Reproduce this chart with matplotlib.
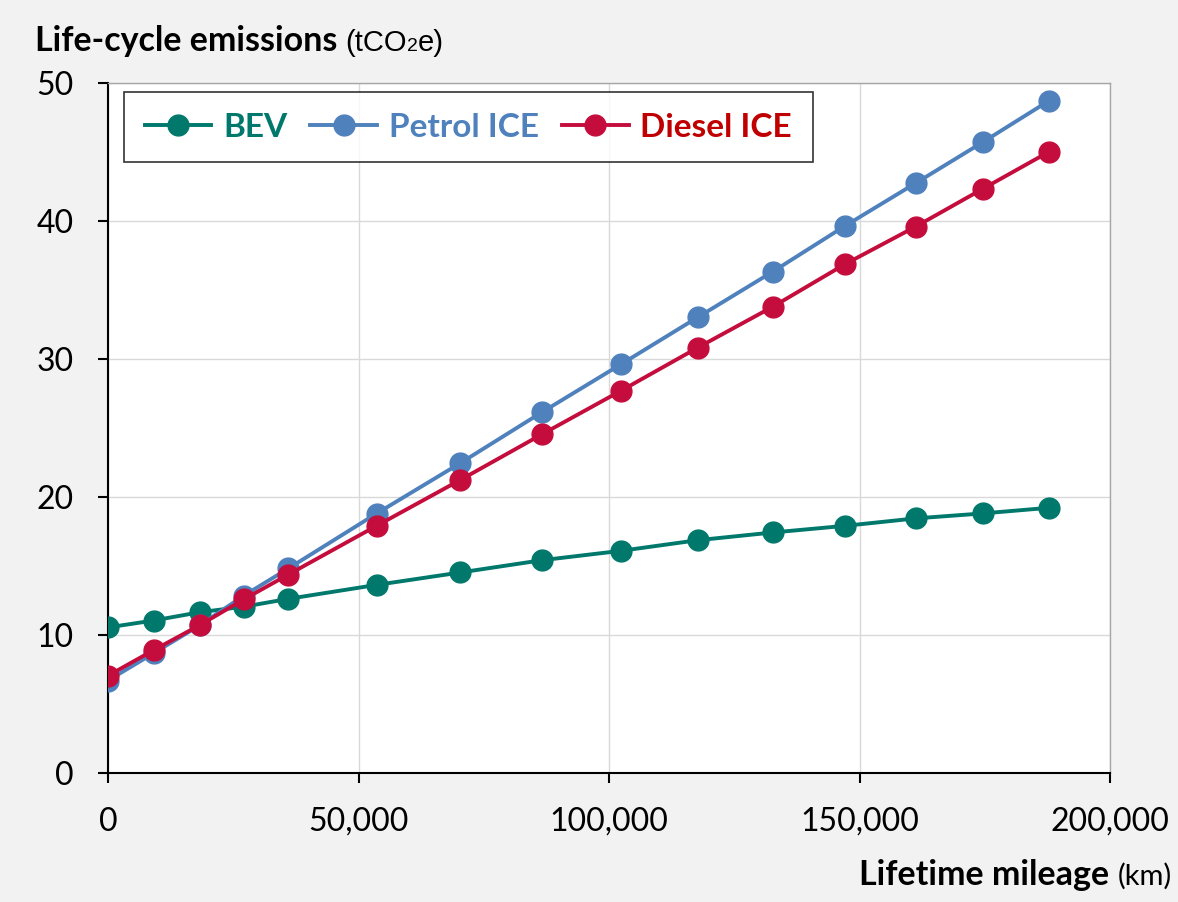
import matplotlib
matplotlib.use("Agg")
import matplotlib.pyplot as plt
from matplotlib.ticker import FuncFormatter, MultipleLocator

# Lifetime mileage (km) and cumulative life-cycle emissions (tCO2e)
mileage = [0, 9100, 18300, 27100, 36000, 53600, 70300, 86600, 102400,
           117700, 132700, 147100, 161200, 174600, 187900]
bev = [10.55, 11.05, 11.65, 12.05, 12.62, 13.63, 14.53, 15.42, 16.10,
       16.87, 17.43, 17.91, 18.45, 18.81, 19.22]
petrol = [6.70, 8.68, 10.70, 12.85, 14.82, 18.80, 22.45, 26.14, 29.62,
          33.02, 36.33, 39.64, 42.74, 45.71, 48.73]
diesel = [7.05, 8.90, 10.71, 12.58, 14.38, 17.91, 21.23, 24.54, 27.70,
          30.82, 33.79, 36.87, 39.59, 42.33, 45.03]

series = [
    ("BEV", bev, "#00786C", "#00786C"),
    ("Petrol ICE", petrol, "#4F81BD", "#4F81BD"),
    ("Diesel ICE", diesel, "#C40D3C", "#C00000"),
]

FONT = "Lato"
W, H, DPI = 1178, 902, 100
fig = plt.figure(figsize=(W / DPI, H / DPI), dpi=DPI, facecolor="#F2F2F2")
ax = fig.add_axes([108 / W, 1 - 773 / H, (1110 - 108) / W, (773 - 83) / H])
ax.set_facecolor("white")

for name, vals, col, _ in series:
    ax.plot(mileage, vals, color=col, lw=2.8, marker="o", ms=15,
            label=name, zorder=3)

ax.set_xlim(0, 200000)
ax.set_ylim(0, 50)
ax.xaxis.set_major_locator(MultipleLocator(50000))
ax.yaxis.set_major_locator(MultipleLocator(10))
ax.xaxis.set_major_formatter(FuncFormatter(lambda v, p: f"{int(v):,}"))
ax.grid(True, color="#D9D9D9", lw=1.0, zorder=0)
ax.set_axisbelow(True)

for s in ("top", "right"):
    ax.spines[s].set_color("#A6A6A6")
    ax.spines[s].set_linewidth(1.0)
for s in ("left", "bottom"):
    ax.spines[s].set_color("black")
    ax.spines[s].set_linewidth(1.5)

ax.tick_params(axis="both", direction="out", length=7.5, width=1.5,
               labelsize=23, colors="black")
ax.tick_params(axis="x", pad=17)
ax.tick_params(axis="y", pad=17)
for lbl in ax.get_xticklabels() + ax.get_yticklabels():
    lbl.set_fontfamily(FONT)

leg = ax.legend(loc="upper left", bbox_to_anchor=(16 / 1002, 1 - 9 / 690),
                borderaxespad=0, ncol=3, frameon=True, fancybox=False,
                handlelength=2.0, handletextpad=0.35,
                columnspacing=0.7, borderpad=0.62,
                prop={"family": FONT, "weight": "bold", "size": 24})
leg.get_frame().set_edgecolor("black")
leg.get_frame().set_linewidth(1.2)
for txt, (_, _, _, tcol) in zip(leg.get_texts(), series):
    txt.set_color(tcol)

# Axis titles, built from pieces so the unit sits in a lighter, smaller face
renderer = fig.canvas.get_renderer()


def piece_widths(pieces):
    total = 0.0
    for s, kw in pieces:
        t = fig.text(0, 0, s, **kw)
        total += t.get_window_extent(renderer).width
        t.remove()
    return total


def run_of_text(x_px, y_px, pieces):
    """Draw text pieces left to right from pixel position (x_px, y_px)."""
    x = x_px
    for s, kw in pieces:
        t = fig.text(x / W, 1 - y_px / H, s, va="baseline", ha="left", **kw)
        x += t.get_window_extent(renderer).width
    return x


unit_kw = dict(fontsize=21, family="Liberation Sans")
run_of_text(35, 51, [
    ("Life-cycle emissions ", dict(fontsize=24.5, fontweight="bold", family=FONT)),
    ("(tCO", unit_kw),
    ("2", dict(fontsize=14, family="Liberation Sans")),
    ("e)", unit_kw),
])

x_title = [
    ("Lifetime mileage ", dict(fontsize=24.5, fontweight="bold", family=FONT)),
    ("(km)", dict(fontsize=21, family=FONT)),
]
run_of_text(1172 - piece_widths(x_title), 885, x_title)

fig.savefig("out.png", dpi=DPI, facecolor=fig.get_facecolor())
